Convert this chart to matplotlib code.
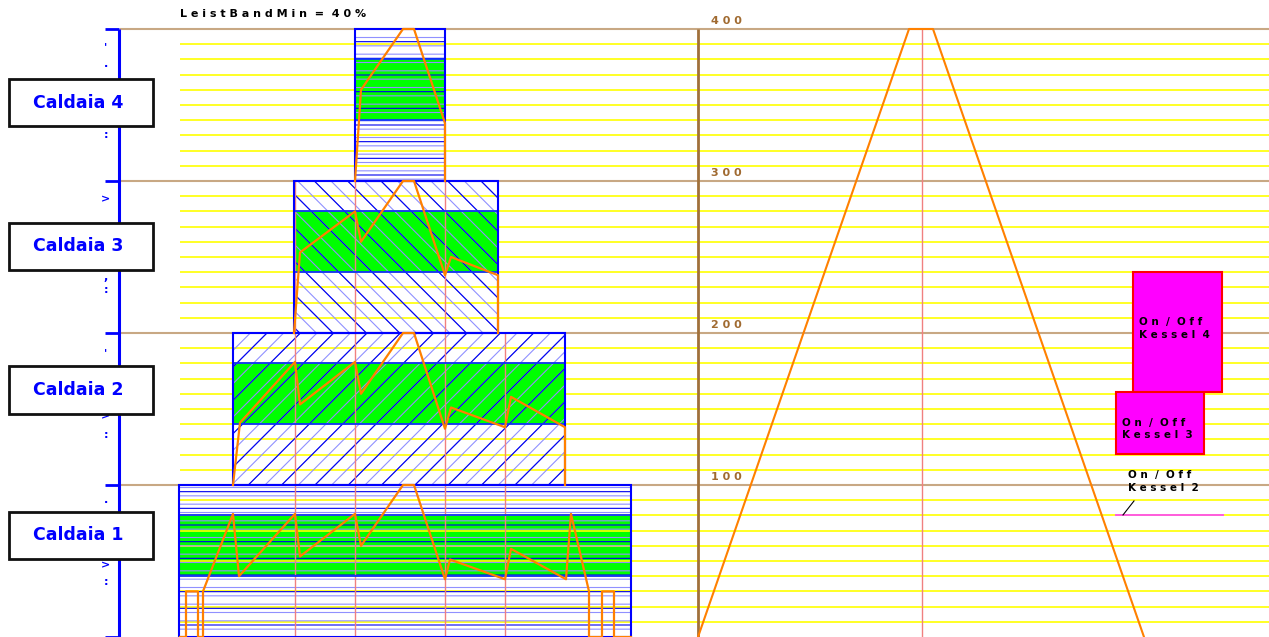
import numpy as np
import matplotlib.pyplot as plt
from matplotlib.patches import Rectangle

plt.rcParams['font.family'] = ['DejaVu Sans']
plt.rcParams['hatch.linewidth'] = 0.8

# boilers, each one owns a band of 100 on the power scale
names = ['Caldaia 1', 'Caldaia 2', 'Caldaia 3', 'Caldaia 4']
band_lo = [0, 100, 200, 300]
bar_x0 = [179, 233, 294, 355]
bar_x1 = [631, 565, 498, 445]
hatches = ['-', '/', '\\', '-']
green_lo = 40
green_hi = 80
label_y = [67, 162.5, 257, 351.5]

# load curves inside each band
c1_x = [180, 186, 186, 198, 198, 203, 203, 233, 239, 295, 300, 355, 361, 403, 414,
        445, 450, 505, 511, 566, 571, 589, 589, 602, 602, 614, 614, 631]
c1_y = [0, 0, 30, 30, 0, 0, 30, 81, 40, 81, 53, 81, 60, 100, 100,
        38, 51, 38, 58, 38, 81, 30, 0, 0, 30, 30, 0, 0]
c2_x = [233, 240, 295, 300, 355, 361, 403, 414, 445, 451, 505, 511, 565, 565]
c2_y = [100, 141, 181, 153, 181, 160, 200, 200, 137, 151, 138, 158, 138, 100]
c3_x = [294, 300, 355, 361, 403, 414, 445, 451, 498, 498]
c3_y = [200, 253, 280, 260, 300, 300, 238, 250, 238, 200]
c4_x = [355, 361, 403, 414, 445, 445]
c4_y = [300, 360, 400, 400, 338, 300]

# ramp on the right
ramp_x = [698, 909, 933, 1144]
ramp_y = [0, 400, 400, 0]

scale_vals = [100, 200, 300, 400]
cursor_x = [295, 355, 445, 505, 922]
cursor_top = [300, 300, 300, 200, 400]

# On/Off boxes
kessel_names = ['Kessel 4', 'Kessel 3']
kessel_x0 = [1133, 1116]
kessel_x1 = [1222, 1204]
kessel_lo = [161, 120.5]
kessel_hi = [240, 161]
kessel_text_x = [1139, 1122]
kessel_text_y = [203, 137]

fig = plt.figure(figsize=(12.69, 6.37), dpi=100)
ax = fig.add_axes([0, 0, 1, 1])
ax.set_xlim(0, 1269)
ax.set_ylim(0, 637 / 1.52)
ax.axis('off')

for v in range(10, 400, 10):
    if v % 100:
        ax.hlines(v, 180, 1269, color='#ffff00', lw=1.2, zorder=3 if v < 100 else 1)
ax.hlines(scale_vals, 120, 1269, color='#c8a884', lw=1.5, zorder=1)

for i in range(4):
    w = bar_x1[i] - bar_x0[i]
    lo = band_lo[i]
    ax.add_patch(Rectangle((bar_x0[i], lo + green_lo), w, green_hi - green_lo,
                           facecolor='#00ff00', edgecolor='none', zorder=2))
    ax.add_patch(Rectangle((bar_x0[i], lo), w, 100, fill=False, hatch=hatches[i] * 2,
                           edgecolor='#9090ff', lw=0, zorder=4))
    ax.add_patch(Rectangle((bar_x0[i], lo), w, 100, fill=False, hatch=hatches[i],
                           edgecolor='#0000ee', lw=0, zorder=4))
    ax.hlines([lo + green_lo, lo + green_hi], bar_x0[i], bar_x1[i], color='#1030ff', lw=1.3, zorder=5)
    ax.add_patch(Rectangle((bar_x0[i], lo), w, 100, fill=False, edgecolor='#0000ff', lw=1.5, zorder=5))

    ax.add_patch(Rectangle((9, label_y[i] - 15.5), 144, 31, facecolor='white',
                           edgecolor='#111111', lw=2, zorder=7))
    ax.text(78, label_y[i], names[i], color='#0000ff', fontsize=12.5, fontweight='bold',
            ha='center', va='center', zorder=8)

for x, top in zip(cursor_x, cursor_top):
    ax.vlines(x, 0, top, color='#f08080', lw=1, zorder=4.5)

ax.plot(c1_x, c1_y, color='#ff8000', lw=1.6, zorder=8)
ax.plot(c2_x, c2_y, color='#ff8000', lw=1.6, zorder=8)
ax.plot(c3_x, c3_y, color='#ff8000', lw=1.6, zorder=8)
ax.plot(c4_x, c4_y, color='#ff8000', lw=1.6, zorder=8)
ax.plot(ramp_x, ramp_y, color='#ff8000', lw=1.5, zorder=8)

# left axis
ax.vlines(119, 0, 400, color='#0000ff', lw=2.2, zorder=6)
ax.hlines([0] + scale_vals, 105, 119, color='#0000ff', lw=2, zorder=6)
mark_y = [388, 377, 330, 288, 237, 228, 187, 145, 133, 90, 47, 36]
mark_s = ["'", '.', ':', '>', ',', ':', "'", '>', ':', '.', '>', ':']
for y, s in zip(mark_y, mark_s):
    ax.text(106, y, s, color='#0000ff', fontsize=8, fontweight='bold', ha='center', va='center')

# right scale
ax.vlines(698, 0, 400, color='#a0703a', lw=2, zorder=6)
for v in scale_vals:
    ax.text(711, v + 2, ' '.join(str(v)), color='#a06a30', fontsize=8, fontweight='bold',
            ha='left', va='bottom')

ax.text(180, 408, 'L e i s t B a n d M i n  =  4 0 %', color='black', fontsize=8,
        fontweight='bold', ha='left', va='baseline')

for i in range(2):
    ax.add_patch(Rectangle((kessel_x0[i], kessel_lo[i]), kessel_x1[i] - kessel_x0[i],
                           kessel_hi[i] - kessel_lo[i], facecolor='#ff00ff',
                           edgecolor='#ff0000', lw=1.5, zorder=6))
    ax.text(kessel_text_x[i], kessel_text_y[i], 'O n  /  O f f\nK e s s e l  ' + kessel_names[i][-1],
            fontsize=7.5, fontweight='bold', ha='left', va='center', linespacing=1.3, zorder=7)
ax.hlines(80.3, 1115, 1224, color='#ff40ff', lw=1.2, zorder=6)
ax.plot([1123, 1134], [80.3, 89.5], color='black', lw=0.8, zorder=6)
ax.text(1128, 102.3, 'O n  /  O f f\nK e s s e l  2', fontsize=7.5, fontweight='bold',
        ha='left', va='center', linespacing=1.3, zorder=7)

fig.savefig('out.png', dpi=100)
